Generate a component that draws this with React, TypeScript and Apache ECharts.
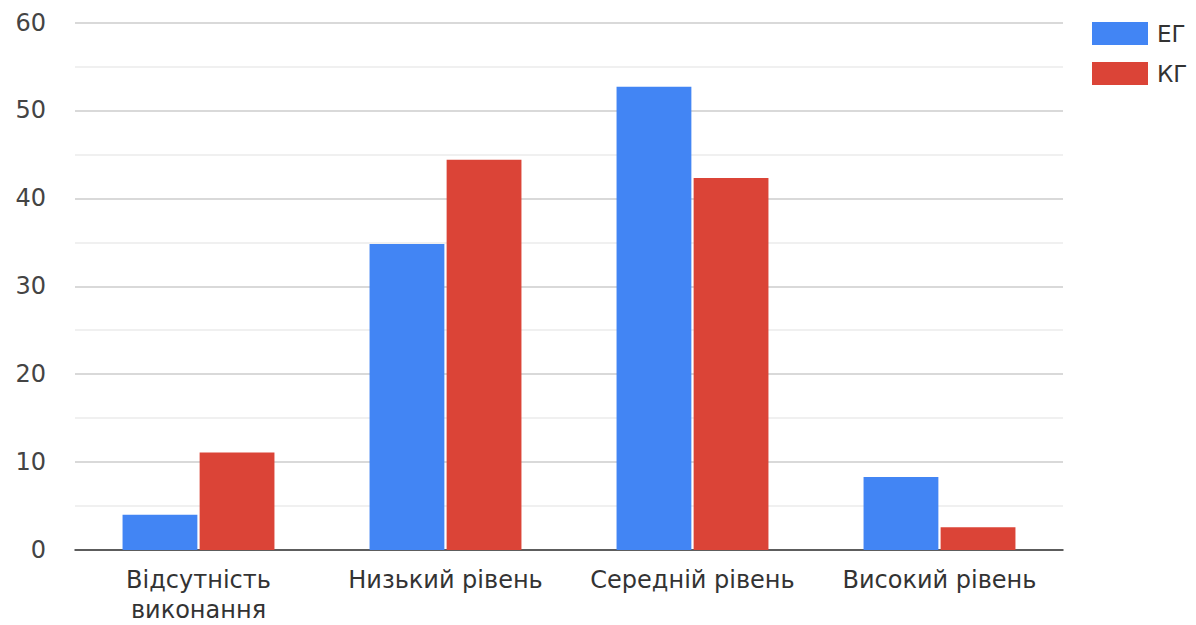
import React, { useEffect, useRef } from "react";
import * as echarts from "echarts";

const categories = ["Відсутність\nвиконання", "Низький рівень", "Середній рівень", "Високий рівень"];
const seriesNames = ["ЕГ", "КГ"];
const egValues = [4.0, 34.8, 52.7, 8.3];
const kgValues = [11.1, 44.4, 42.3, 2.6];
const colors = ["#4285F4", "#DB4437"];

export default function App() {
  const ref = useRef<HTMLDivElement>(null);
  useEffect(() => {
    if (!ref.current) return;
    const chart = echarts.init(ref.current, undefined, { renderer: "svg" });
    const font = "'DejaVu Sans', sans-serif";
    chart.setOption({
      animation: false,
      backgroundColor: "#ffffff",
      color: colors,
      grid: { left: 75, right: 133, top: 22.5, bottom: 69.5, containLabel: false },
      legend: {
        orient: "vertical",
        left: 1092,
        top: 22,
        padding: 0,
        itemWidth: 56,
        itemHeight: 23,
        itemGap: 17,
        icon: "rect",
        textStyle: { fontFamily: font, fontSize: 23, color: "#333", padding: [0, 0, 0, 4] },
        data: seriesNames,
      },
      xAxis: {
        type: "category",
        data: categories,
        axisTick: { show: false },
        axisLine: { lineStyle: { color: "#333", width: 1.5 } },
        axisLabel: { fontFamily: font, fontSize: 24, color: "#333", margin: 15, lineHeight: 30, interval: 0 },
      },
      yAxis: {
        type: "value",
        min: 0,
        max: 60,
        interval: 10,
        axisLine: { show: false },
        axisTick: { show: false },
        axisLabel: { fontFamily: font, fontSize: 24, color: "#444", margin: 29 },
        splitLine: { lineStyle: { color: "#cccccc", width: 1.5 } },
        minorTick: { show: false, splitNumber: 2 },
        minorSplitLine: { show: true, lineStyle: { color: "#ebebeb", width: 1.5 } },
      },
      series: [
        { name: seriesNames[0], type: "bar", data: egValues, barGap: "3%", barCategoryGap: "38.5%" },
        { name: seriesNames[1], type: "bar", data: kgValues, barGap: "3%", barCategoryGap: "38.5%" },
      ],
    });
    return () => chart.dispose();
  }, []);
  return <div ref={ref} style={{ position: "fixed", left: 0, top: 0, width: 1196, height: 625 }} />;
}
